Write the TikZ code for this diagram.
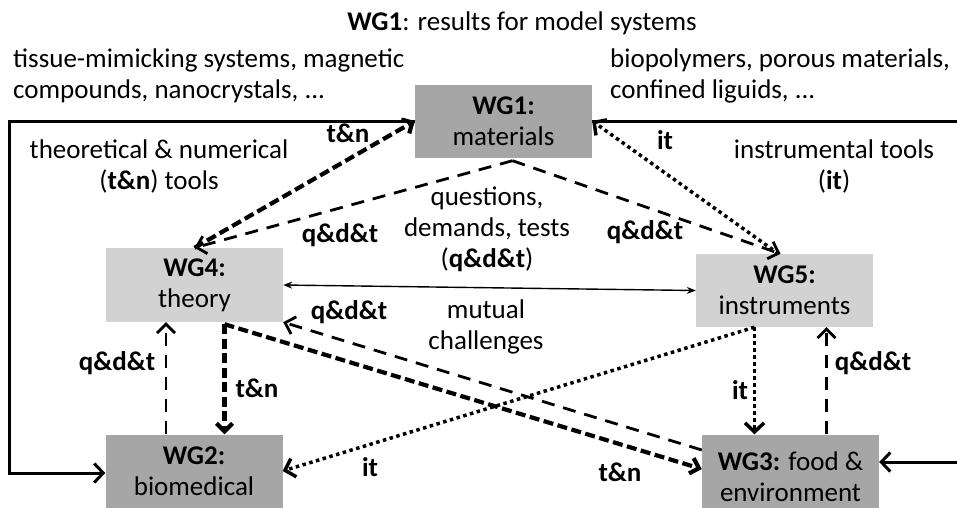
\documentclass[tikz,border=0pt]{standalone}
\usepackage{fontspec}
\setmainfont{Carlito}
\usetikzlibrary{arrows.meta,calc}
\definecolor{boxdark}{HTML}{A6A6A6}
\definecolor{boxlight}{HTML}{D2D2D2}
\begin{document}
\begin{tikzpicture}[x=1pt,y=-1pt,
  font=\fontsize{27}{31}\selectfont,
  wgbox/.style={minimum width=177pt, minimum height=73pt, inner sep=0pt, align=center, text=black},
  dark/.style={wgbox, fill=boxdark},
  light/.style={wgbox, fill=boxlight},
  lbl/.style={font=\fontsize{27}{31}\selectfont\bfseries, inner sep=0pt},
  txt/.style={inner sep=0pt, align=center},
  loopline/.style={line width=3pt, -{Straight Barb[length=9pt,width=19pt]}},
  tnline/.style={line width=4.2pt, dash pattern=on 10pt off 4.5pt, -{Straight Barb[length=8pt,width=16pt]}},
  qdtline/.style={line width=2.8pt, dash pattern=on 13pt off 9pt, -{Straight Barb[length=9pt,width=18pt]}},
  itline/.style={line width=3.5pt, dash pattern=on 3.5pt off 3.5pt, -{Straight Barb[length=9pt,width=19pt]}},
  mutline/.style={line width=1.4pt, {Stealth[length=9pt,width=7pt]}-{Stealth[length=9pt,width=7pt]}}
]
\clip (0,0) rectangle (957,507);
\fill[white] (0,0) rectangle (957,507);

% boxes
\node[dark] (wg1) at (503.5,121) {\textbf{WG1:}\\materials};
\node[light,minimum height=74pt] (wg4) at (194.5,285) {\textbf{WG4:}\\theory};
\node[light] (wg5) at (784.5,290.5) {\textbf{WG5:}\\instruments};
\node[dark] (wg2) at (194,471) {\textbf{WG2:}\\biomedical};
\node[dark] (wg3) at (790.5,471) {};
\node[txt] (wg3text) at ($(wg3.center)+(0,6)$) {\textbf{WG3:} food \&\\environment};

% free texts
\node[anchor=base, inner sep=0pt] (title) at (522,30) {\textbf{WG1}: results for model systems};
\node[anchor=west, inner sep=0pt, align=left] (leftmat) at (13,76) {tissue-mimicking systems, magnetic\\compounds, nanocrystals, ...};
\node[anchor=west, inner sep=0pt, align=left] (rightmat) at (610,76) {biopolymers, porous materials,\\confined liguids, ...};
\node[txt] (tntools) at (159,166) {theoretical \& numerical\\(\textbf{t\&n}) tools};
\node[txt] (ittools) at (834,166) {instrumental tools\\(\textbf{it})};
\node[txt] (qdt) at (487,229) {questions,\\demands, tests\\(\textbf{q\&d\&t})};
\node[txt] (mutual) at (486,327) {mutual\\challenges};

% connector labels
\node[lbl] (l1) at (348,133) {t\&n};
\node[lbl] (l2) at (340,235) {q\&d\&t};
\node[lbl] (l3) at (665,140) {it};
\node[lbl] (l4) at (645,232) {q\&d\&t};
\node[lbl] (l5) at (349,312) {q\&d\&t};
\node[lbl] (l6) at (117,363) {q\&d\&t};
\node[lbl] (l7) at (257,388) {t\&n};
\node[lbl] (l8) at (370,467) {it};
\node[lbl] (l9) at (620,472) {t\&n};
\node[lbl] (l10) at (740,390) {it};
\node[lbl] (l11) at (873,363) {q\&d\&t};

% helper coordinates
\coordinate (w1s) at ($(wg1.south)+(9,3)$);
\coordinate (w4s) at ($(wg4.south)+(30,2)$);
\coordinate (w5s) at ($(wg5.south)+(-30,0)$);

% outer loops
\draw[loopline] (wg1.west) -- ++(-405,0) |- ($(wg2.west)+(0,2)$);
\draw[loopline] (wg1.east) -- ++(380,0) |- ($(wg3.east)+(0,-9)$);

% WG1 related
\draw[tnline] (wg4.north) -- (wg1.west);
\draw[qdtline] (w1s) -- (wg4.north);
\draw[qdtline] (w1s) -- ($(wg5.north)+(-4,0)$);
\draw[itline] ($(wg5.north)+(-6,0)$) -- (wg1.east);

% mutual challenges
\draw[mutline] (wg4.east) -- (wg5.west);

% lower part
\draw[qdtline] ($(wg3.west)+(0,-21)$) -- (wg4.south east);
\draw[tnline] (w4s) -- ($(wg3.west)+(0,-2)$);
\draw[tnline] (w4s) -- (w4s |- wg2.north);
\draw[qdtline] ($(wg2.north)+(-28,0)$) -- ($(wg4.south)+(-28.5,0)$);
\draw[itline] (w5s) -- (wg2.east);
\draw[itline] (w5s) -- (w5s |- wg3.north);
\draw[qdtline] ($(wg3.north)+(36,0)$) -- ($(wg5.south)+(42,0)$);
\end{tikzpicture}
\end{document}
